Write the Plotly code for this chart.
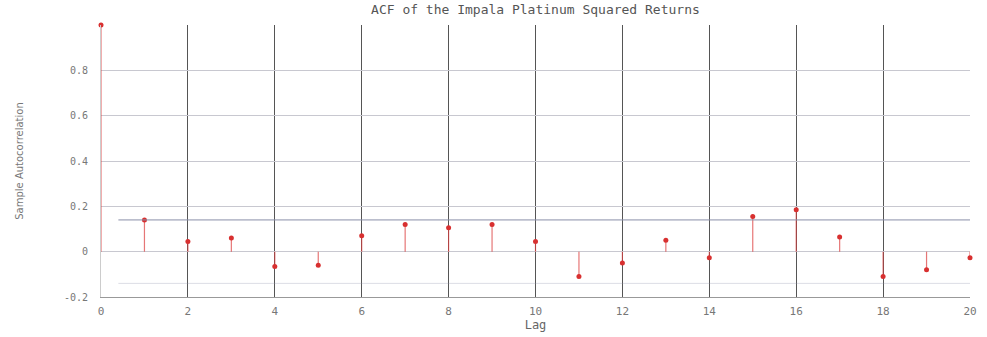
import plotly.graph_objects as go

lags = list(range(0, 21))
acf = [1.0, 0.14, 0.045, 0.06, -0.065, -0.06, 0.07, 0.12, 0.105, 0.12, 0.045,
       -0.11, -0.05, 0.05, -0.027, 0.155, 0.185, 0.065, -0.11, -0.08, -0.027]
bound = 0.14
xticks = [0, 2, 4, 6, 8, 10, 12, 14, 16, 18, 20]
yticks = [-0.2, 0, 0.2, 0.4, 0.6, 0.8]
ytick_text = ["-0.2", "0", "0.2", "0.4", "0.6", "0.8"]

fig = go.Figure()

# stems
sx, sy = [], []
for l, v in zip(lags, acf):
    sx += [l, l, None]
    sy += [0, v, None]
fig.add_trace(go.Scatter(x=sx, y=sy, mode="lines",
                         line=dict(color="rgba(220,60,60,0.7)", width=1.2),
                         hoverinfo="skip", showlegend=False, cliponaxis=False))
fig.add_trace(go.Scatter(x=lags, y=acf, mode="markers",
                         marker=dict(color="#d83030", size=5, symbol="circle"),
                         showlegend=False, cliponaxis=False))
# confidence bounds
fig.add_trace(go.Scatter(x=[0.4, 20], y=[bound, bound], mode="lines",
                         line=dict(color="#8a8fa8", width=1), showlegend=False))
fig.add_trace(go.Scatter(x=[0.4, 20], y=[-bound, -bound], mode="lines",
                         line=dict(color="rgba(138,143,168,0.3)", width=1), showlegend=False))

fig.update_layout(
    width=987, height=337,
    margin=dict(l=101, r=17, t=25, b=40, autoexpand=False),
    paper_bgcolor="white", plot_bgcolor="white",
    title=dict(text="ACF of the Impala Platinum Squared Returns",
               x=0.5425, xanchor="center", y=0.985, yanchor="top",
               font=dict(family="DejaVu Sans Mono", size=13, color="#555555")),
    font=dict(family="DejaVu Sans Mono", size=10, color="#666666"),
)
fig.update_xaxes(range=[0, 20], tickvals=xticks, ticks="", showgrid=True,
                 gridcolor="#555555", gridwidth=1, zeroline=False,
                 showline=True, linecolor="#999999", mirror=False,
                 ticklabelstandoff=4, automargin=False,
                 title=dict(text="Lag", standoff=0, font=dict(size=12, color="#666666")),
                 tickfont=dict(size=11, color="#777777"))
fig.update_yaxes(range=[-0.2, 1.0], tickvals=yticks, ticktext=ytick_text, ticks="",
                 showgrid=True, gridcolor="#c8c8d0", gridwidth=1, zeroline=False,
                 showline=True, linecolor="#cccccc",
                 ticklabelstandoff=10, automargin=False,
                 title=dict(text="Sample Autocorrelation", standoff=38,
                            font=dict(family="DejaVu Sans", size=10, color="#777777")),
                 tickfont=dict(size=10, color="#777777"))

fig.write_html("out.html")
